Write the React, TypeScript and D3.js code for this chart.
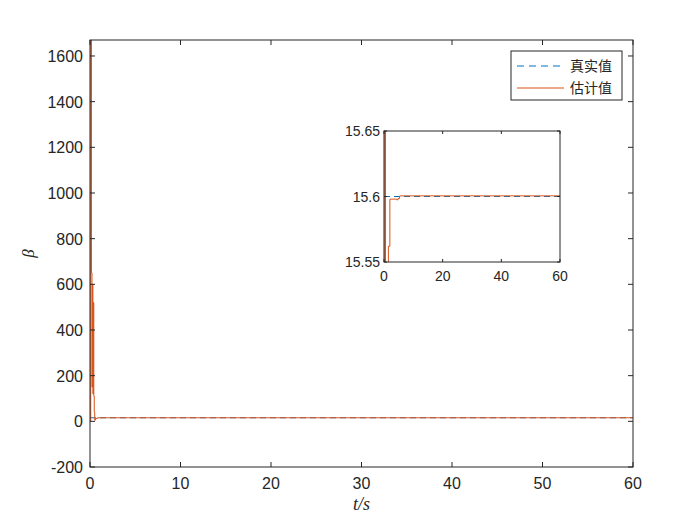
import React from "react";
import * as d3 from "d3";

const xTicks = [0, 10, 20, 30, 40, 50, 60];
const yTicks = [-200, 0, 200, 400, 600, 800, 1000, 1200, 1400, 1600];
const insetXTicks = [0, 20, 40, 60];
const insetYTicks = [15.55, 15.6, 15.65];

const trueT = [0, 60];
const trueV = [15.6, 15.6];

const estT = [0, 0.08, 0.16, 0.22, 0.27, 0.32, 0.37, 0.42, 0.47, 0.52, 0.6, 0.8, 1.1, 1.5, 2.0, 4.3, 4.8, 5.3, 5.6, 60];
const estV = [0, 1670, 650, 150, 600, 120, 520, 110, 40, 5, 12, 15.3, 15.54, 15.562, 15.598, 15.5975, 15.5985, 15.6003, 15.6005, 15.6005];

const legendLabels = ["真实值", "估计值"];

const BLUE = "#0072BD";
const ORANGE = "#D95319";
const INK = "#262626";

export default function App() {
  const W = 700, H = 525;
  const m = { l: 90, r: 633, t: 40, b: 467 };
  const x = d3.scaleLinear().domain([0, 60]).range([m.l, m.r]);
  const y = d3.scaleLinear().domain([-200, 1670]).range([m.b, m.t]);

  const ins = { l: 384, r: 560, t: 131, b: 262 };
  const xi = d3.scaleLinear().domain([0, 60]).range([ins.l, ins.r]);
  const yi = d3.scaleLinear().domain([15.55, 15.65]).range([ins.b, ins.t]);

  const trueData = trueT.map((t, i) => [t, trueV[i]] as [number, number]);
  const estData = estT.map((t, i) => [t, estV[i]] as [number, number]);

  const lineMain = d3.line<[number, number]>().x(d => x(d[0])).y(d => y(d[1])).curve(d3.curveStepAfter);
  const lineIns = d3.line<[number, number]>().x(d => xi(d[0])).y(d => yi(d[1])).curve(d3.curveStepAfter);

  const font = "'Liberation Sans', Arial, sans-serif";
  const tl = 5;

  return (
    <svg width={W} height={H} style={{ position: "absolute", left: 0, top: 0, background: "#fff" }}>
      <defs>
        <clipPath id="cm"><rect x={m.l} y={m.t} width={m.r - m.l} height={m.b - m.t} /></clipPath>
        <clipPath id="ci"><rect x={ins.l} y={ins.t} width={ins.r - ins.l} height={ins.b - ins.t} /></clipPath>
      </defs>
      <rect x={0} y={0} width={W} height={H} fill="#fff" />
      {/* main plot */}
      <g clipPath="url(#cm)">
        <path d={lineMain(trueData) || ""} fill="none" stroke={BLUE} strokeWidth={1} strokeDasharray="6,4" />
        <path d={lineMain(estData) || ""} fill="none" stroke={ORANGE} strokeWidth={1} />
      </g>
      <rect x={m.l} y={m.t} width={m.r - m.l} height={m.b - m.t} fill="none" stroke={INK} strokeWidth={1} />
      {xTicks.map(t => (
        <g key={"x" + t}>
          <line x1={x(t)} x2={x(t)} y1={m.b} y2={m.b - tl} stroke={INK} />
          <line x1={x(t)} x2={x(t)} y1={m.t} y2={m.t + tl} stroke={INK} />
          <text x={x(t)} y={m.b + 22} textAnchor="middle" fontFamily={font} fontSize={16} fill={INK}>{t}</text>
        </g>
      ))}
      {yTicks.map(t => (
        <g key={"y" + t}>
          <line x1={m.l} x2={m.l + tl} y1={y(t)} y2={y(t)} stroke={INK} />
          <line x1={m.r} x2={m.r - tl} y1={y(t)} y2={y(t)} stroke={INK} />
          <text x={m.l - 7} y={y(t) + 6} textAnchor="end" fontFamily={font} fontSize={16} fill={INK}>{t}</text>
        </g>
      ))}
      <text x={(m.l + m.r) / 2} y={510} textAnchor="middle" fontFamily="'Liberation Serif', 'Times New Roman', serif" fontStyle="italic" fontSize={18} fill={INK}>t/s</text>
      <text transform={`translate(34,${(m.t + m.b) / 2}) rotate(-90)`} textAnchor="middle" fontFamily="'Liberation Serif', 'Times New Roman', serif" fontStyle="italic" fontSize={17} fill={INK}>β</text>

      {/* legend */}
      <rect x={511} y={51} width={111} height={49} fill="#fff" stroke={INK} strokeWidth={1} />
      <line x1={517} x2={564} y1={66} y2={66} stroke={BLUE} strokeWidth={1} strokeDasharray="7,5" />
      <line x1={517} x2={564} y1={88} y2={88} stroke={ORANGE} strokeWidth={1} />
      <text x={570} y={71} fontFamily="'Noto Sans CJK SC', sans-serif" fontSize={14} fill={INK}>{legendLabels[0]}</text>
      <text x={570} y={93} fontFamily="'Noto Sans CJK SC', sans-serif" fontSize={14} fill={INK}>{legendLabels[1]}</text>

      {/* inset */}
      <rect x={ins.l} y={ins.t} width={ins.r - ins.l} height={ins.b - ins.t} fill="#fff" />
      <g clipPath="url(#ci)">
        <path d={lineIns(trueData) || ""} fill="none" stroke={BLUE} strokeWidth={1} strokeDasharray="6,4" />
        <path d={lineIns(estData) || ""} fill="none" stroke={ORANGE} strokeWidth={1} />
      </g>
      <rect x={ins.l} y={ins.t} width={ins.r - ins.l} height={ins.b - ins.t} fill="none" stroke={INK} strokeWidth={1} />
      {insetXTicks.map(t => (
        <g key={"ix" + t}>
          <line x1={xi(t)} x2={xi(t)} y1={ins.b} y2={ins.b - 3} stroke={INK} />
          <line x1={xi(t)} x2={xi(t)} y1={ins.t} y2={ins.t + 3} stroke={INK} />
          <text x={xi(t)} y={ins.b + 19} textAnchor="middle" fontFamily={font} fontSize={14} fill={INK}>{t}</text>
        </g>
      ))}
      {insetYTicks.map(t => (
        <g key={"iy" + t}>
          <line x1={ins.l} x2={ins.l + 3} y1={yi(t)} y2={yi(t)} stroke={INK} />
          <line x1={ins.r} x2={ins.r - 3} y1={yi(t)} y2={yi(t)} stroke={INK} />
          <text x={ins.l - 4} y={yi(t) + 5} textAnchor="end" fontFamily={font} fontSize={14} fill={INK}>{String(t)}</text>
        </g>
      ))}
    </svg>
  );
}
